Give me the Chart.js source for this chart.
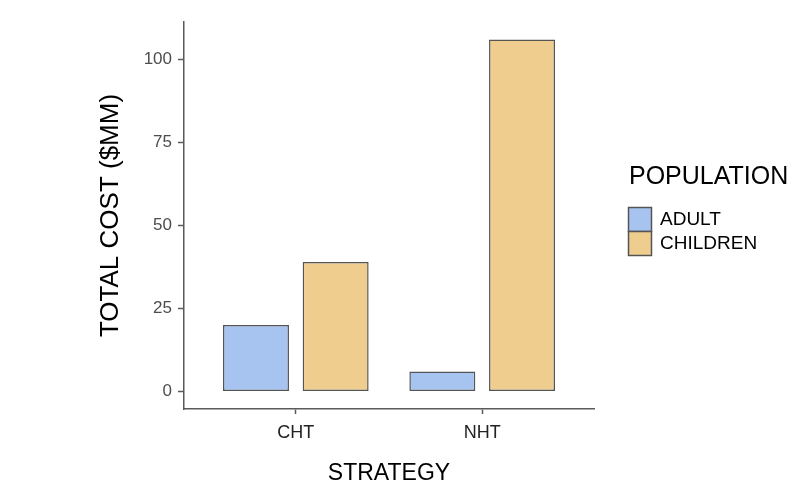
<!DOCTYPE html>
<html>
<head>
<meta charset="utf-8">
<script src="https://cdn.jsdelivr.net/npm/chart.js@4"></script>
<style>
  html, body { margin: 0; padding: 0; background: #fff; }
  #wrap { width: 797px; height: 485px; }
</style>
</head>
<body>
<div id="wrap"><canvas id="chart" width="797" height="485"></canvas></div>
<script>
const categories = ['CHT', 'NHT'];
const adultCost = [20, 6];
const childrenCost = [39, 106];
const yTicks = [0, 25, 50, 75, 100];
const seriesNames = ['ADULT', 'CHILDREN'];
const legendTitle = 'POPULATION';

const FONT = "'Liberation Sans', Arial, Helvetica, sans-serif";
const axisGrey = '#5a5a5a';
const barBorder = '#555555';

const toPoints = (vals) => vals.map((v, i) => ({ x: i + 1, y: v }));

// legend drawn by hand, ggplot style (boxes stacked, title above)
const legendPlugin = {
  id: 'ggLegend',
  afterDraw(chart) {
    const ctx = chart.ctx;
    ctx.save();
    ctx.fillStyle = '#000';
    ctx.textBaseline = 'middle';
    ctx.textAlign = 'left';
    ctx.font = '25px ' + FONT;
    ctx.fillText(legendTitle, 629, 177);
    ctx.font = '19px ' + FONT;
    chart.data.datasets.forEach((ds, i) => {
      const y = 207.5 + i * 24;
      ctx.fillStyle = ds.backgroundColor;
      ctx.fillRect(628.5, y, 23, 24);
      ctx.strokeStyle = barBorder;
      ctx.lineWidth = 1.5;
      ctx.strokeRect(628.5, y, 23, 24);
      ctx.fillStyle = '#000';
      ctx.fillText(ds.label, 660, y + 12.5);
    });
    ctx.restore();
  }
};

const data = {
  datasets: [
    {
      label: seriesNames[0],
      data: toPoints(adultCost),
      backgroundColor: '#a7c4f1',
      borderColor: barBorder,
      borderWidth: 1.5,
      borderSkipped: false,
    },
    {
      label: seriesNames[1],
      data: toPoints(childrenCost),
      backgroundColor: '#efcd8e',
      borderColor: barBorder,
      borderWidth: 1.5,
      borderSkipped: false,
    },
  ],
};

const config = {
  type: 'bar',
  data,
  options: {
    responsive: false,
    animation: false,
    categoryPercentage: 0.855,
    barPercentage: 0.828,
    layout: {
      padding: { left: 98, top: 22, right: 203, bottom: 0 },
    },
    plugins: {
      legend: { display: false },
      tooltip: { enabled: false },
    },
    scales: {
      x: {
        type: 'linear',
        min: 0.4,
        max: 2.6,
        offset: false,
        afterBuildTicks(scale) {
          scale.ticks = categories.map((c, i) => ({ value: i + 1 }));
        },
        afterFit(scale) {
          scale.height = 76;
        },
        ticks: {
          callback: (value, index) => categories[index],
          color: '#222',
          font: { family: FONT, size: 18 },
          padding: 8,
          maxRotation: 0,
        },
        grid: {
          offset: false,
          drawOnChartArea: false,
          drawTicks: true,
          tickLength: 5,
          tickColor: axisGrey,
          tickWidth: 1.5,
        },
        border: { color: axisGrey, width: 1.5 },
        title: {
          display: true,
          text: 'STRATEGY',
          color: '#000',
          font: { family: FONT, size: 23, lineHeight: 1 },
          padding: { top: 0, bottom: 0 },
        },
      },
      y: {
        min: -5.3,
        max: 111.3,
        afterBuildTicks(scale) {
          scale.ticks = yTicks.map((v) => ({ value: v }));
        },
        afterFit(scale) {
          scale.width = 86;
        },
        ticks: {
          color: '#4d4d4d',
          font: { family: FONT, size: 17 },
          padding: 6,
        },
        grid: {
          drawOnChartArea: false,
          drawTicks: true,
          tickLength: 6,
          tickColor: axisGrey,
          tickWidth: 1.5,
        },
        border: { color: axisGrey, width: 1.5 },
        title: {
          display: true,
          text: 'TOTAL COST ($MM)',
          color: '#000',
          font: { family: FONT, size: 26, lineHeight: 1 },
          padding: { top: 0, bottom: 0 },
        },
      },
    },
  },
  plugins: [legendPlugin],
};

new Chart(document.getElementById('chart').getContext('2d'), config);
</script>
</body>
</html>
